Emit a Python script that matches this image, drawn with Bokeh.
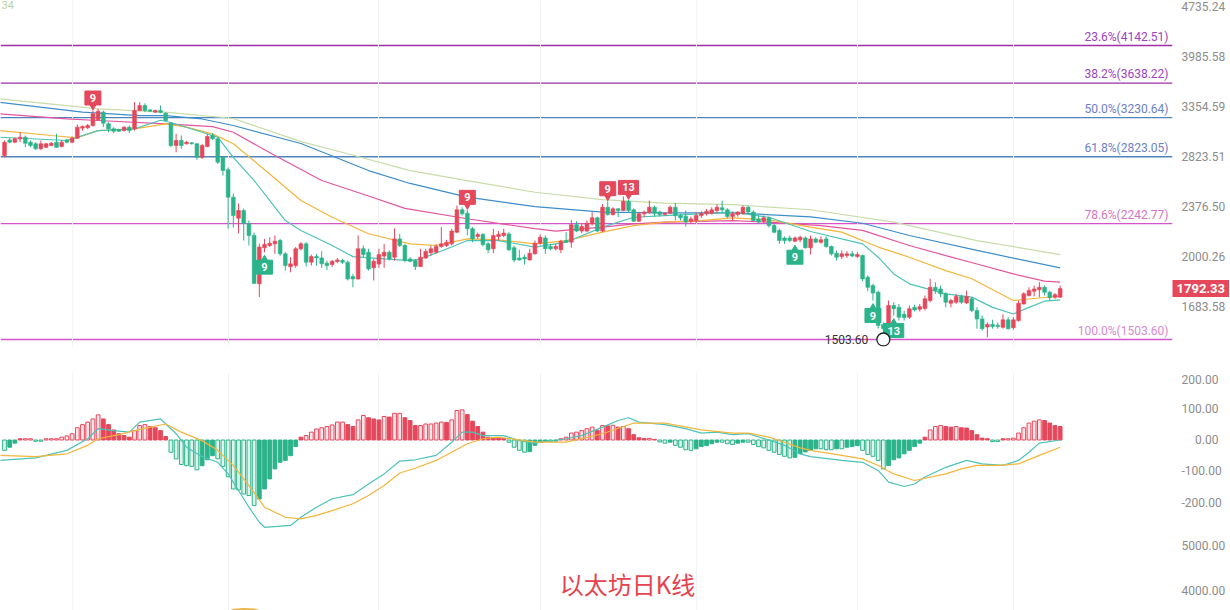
import math
from bokeh.plotting import figure
from bokeh.layouts import column
from bokeh.models import (Range1d, FixedTicker, NumeralTickFormatter, Label,
                          ColumnDataSource, Grid)
from bokeh.core.properties import value
from bokeh.embed import file_html
from bokeh.resources import INLINE

# ---------------- data ----------------
OPEN = [
    2835, 2992, 2969, 3003, 3020, 2969, 2952, 2901, 2917, 2935,
    2969, 2924, 2992, 2969, 3009, 3116, 3120, 3144, 3207, 3292,
    3163, 3109, 3100, 3090, 3126, 3109, 3311, 3368, 3318, 3292,
    3311, 3281, 3170, 2935, 2986, 2952, 2962, 2952, 2818, 2924,
    3038, 3003, 2818, 2700, 2456, 2284, 2346, 2243, 2152, 1822,
    2063, 2079, 2091, 2115, 2020, 1933, 1940, 2056, 2091, 1963,
    2001, 1992, 1956, 1947, 1967, 1974, 1963, 1868, 1853, 2056,
    2032, 1925, 1950, 2005, 2032, 1997, 2127, 2079, 1985, 1974,
    1934, 1992, 2028, 2032, 2072, 2079, 2091, 2177, 2351, 2324,
    2203, 2145, 2160, 2091, 2056, 2145, 2152, 2164, 2063, 1992,
    1997, 1978, 2020, 2096, 2134, 2072, 2056, 2049, 2115, 2103,
    2234, 2185, 2185, 2240, 2287, 2185, 2372, 2313, 2359, 2346,
    2422, 2351, 2261, 2319, 2330, 2372, 2333, 2313, 2324, 2372,
    2305, 2300, 2261, 2266, 2305, 2319, 2324, 2346, 2368, 2351,
    2297, 2313, 2319, 2372, 2333, 2279, 2261, 2287, 2227, 2190,
    2134, 2134, 2110, 2120, 2134, 2063, 2127, 2103, 2127, 2072,
    2025, 2001, 2008, 2020, 2001, 2008, 1864, 1811, 1770, 1584,
    1578, 1691, 1680, 1640, 1624, 1680, 1669, 1674, 1720, 1800,
    1790, 1760, 1704, 1710, 1744, 1706, 1730, 1662, 1614, 1570,
    1584, 1580, 1568, 1609, 1566, 1605, 1700, 1750, 1776, 1785,
    1800, 1770, 1740, 1740,
]
HIGH = [
    2986, 3013, 3020, 3072, 3038, 2986, 2969, 2986, 2962, 2970,
    3055, 2992, 3003, 3027, 3155, 3144, 3160, 3311, 3330, 3311,
    3181, 3126, 3110, 3137, 3144, 3407, 3407, 3395, 3330, 3322,
    3368, 3292, 3181, 3055, 3038, 2980, 2970, 2958, 2952, 3055,
    3062, 3020, 2825, 2720, 2487, 2403, 2362, 2266, 2175, 2093,
    2127, 2139, 2152, 2127, 2032, 1997, 2068, 2103, 2103, 2015,
    2020, 2039, 1974, 1978, 1992, 1985, 1974, 1886, 2152, 2079,
    2056, 1985, 2056, 2091, 2044, 2205, 2164, 2091, 1997, 1985,
    2056, 2056, 2079, 2091, 2215, 2120, 2203, 2386, 2372, 2351,
    2215, 2175, 2170, 2103, 2203, 2185, 2203, 2177, 2079, 2049,
    2015, 2056, 2115, 2160, 2152, 2091, 2091, 2120, 2177, 2271,
    2261, 2240, 2266, 2333, 2297, 2399, 2422, 2372, 2364, 2462,
    2433, 2364, 2333, 2346, 2428, 2386, 2346, 2333, 2386, 2407,
    2319, 2346, 2297, 2333, 2340, 2359, 2372, 2396, 2428, 2364,
    2333, 2340, 2386, 2386, 2346, 2305, 2305, 2297, 2240, 2203,
    2145, 2152, 2145, 2152, 2145, 2152, 2139, 2145, 2145, 2079,
    2044, 2044, 2039, 2039, 2032, 2015, 1875, 1822, 1780, 1595,
    1720, 1710, 1700, 1660, 1691, 1696, 1700, 1750, 1854, 1832,
    1811, 1770, 1730, 1760, 1755, 1780, 1740, 1680, 1633, 1595,
    1610, 1595, 1640, 1624, 1624, 1720, 1770, 1800, 1811, 1832,
    1811, 1780, 1765, 1811,
]
LOW = [
    2818, 2958, 2958, 2969, 2917, 2917, 2891, 2891, 2910, 2928,
    2911, 2917, 2958, 2958, 3003, 3090, 3105, 3133, 3199, 3126,
    3072, 3062, 3075, 3080, 3062, 3090, 3303, 3292, 3292, 3285,
    3281, 3192, 2917, 2867, 2901, 2945, 2945, 2793, 2802, 2917,
    2992, 2755, 2646, 2203, 2212, 2168, 2115, 2079, 1820, 1740,
    2032, 2068, 2020, 2008, 1907, 1896, 1925, 2044, 1934, 1940,
    1940, 1925, 1911, 1932, 1956, 1952, 1843, 1800, 1848, 1997,
    1907, 1843, 1925, 1925, 1974, 1974, 2068, 1963, 1963, 1911,
    1930, 1985, 2008, 2020, 2063, 2068, 2079, 2170, 2305, 2152,
    2103, 2127, 2072, 2025, 2025, 2115, 2139, 2039, 1963, 1974,
    1947, 1974, 2015, 2086, 2020, 2044, 2044, 2025, 2098, 2063,
    2177, 2170, 2177, 2227, 2177, 2177, 2305, 2305, 2292, 2340,
    2333, 2255, 2255, 2292, 2319, 2297, 2297, 2305, 2319, 2266,
    2266, 2220, 2240, 2245, 2287, 2305, 2313, 2324, 2333, 2287,
    2261, 2297, 2313, 2319, 2255, 2245, 2245, 2212, 2170, 2091,
    2091, 2103, 2103, 2103, 2058, 2015, 2096, 2091, 2063, 2008,
    1974, 1985, 1992, 1997, 1992, 1838, 1776, 1720, 1561, 1503.60,
    1534, 1633, 1605, 1605, 1614, 1656, 1656, 1662, 1710, 1760,
    1740, 1680, 1680, 1700, 1700, 1700, 1652, 1561, 1551, 1515,
    1561, 1561, 1561, 1556, 1556, 1600, 1696, 1744, 1744, 1740,
    1750, 1720, 1730, 1736,
]
CLOSE = [
    2968, 2969, 3003, 3020, 2958, 2935, 2901, 2952, 2952, 2958,
    2917, 2969, 2969, 3009, 3126, 3133, 3144, 3273, 3303, 3170,
    3109, 3083, 3083, 3126, 3090, 3311, 3368, 3311, 3303, 3311,
    3288, 3199, 2935, 2986, 2935, 2969, 2952, 2818, 2935, 3027,
    3003, 2771, 2692, 2456, 2305, 2346, 2243, 2152, 1825, 2068,
    2086, 2096, 2110, 2020, 1940, 1952, 2056, 2091, 1963, 2001,
    1992, 1952, 1940, 1969, 1978, 1963, 1853, 1853, 2056, 2015,
    1918, 1969, 2015, 2032, 1985, 2127, 2079, 1974, 1969, 1934,
    1997, 2037, 2056, 2072, 2091, 2103, 2185, 2351, 2319, 2203,
    2127, 2160, 2086, 2049, 2152, 2160, 2170, 2049, 1978, 1978,
    1985, 2025, 2096, 2139, 2056, 2056, 2072, 2110, 2103, 2234,
    2185, 2220, 2245, 2287, 2185, 2372, 2313, 2359, 2346, 2422,
    2346, 2261, 2319, 2333, 2372, 2324, 2313, 2324, 2372, 2305,
    2287, 2255, 2279, 2305, 2324, 2340, 2351, 2372, 2351, 2297,
    2319, 2333, 2372, 2333, 2266, 2255, 2287, 2227, 2177, 2115,
    2115, 2115, 2134, 2139, 2063, 2127, 2103, 2120, 2072, 2020,
    1997, 2020, 2020, 2005, 2015, 1853, 1800, 1765, 1578, 1561,
    1691, 1672, 1624, 1622, 1672, 1665, 1684, 1730, 1800, 1780,
    1760, 1710, 1720, 1744, 1710, 1744, 1662, 1614, 1561, 1584,
    1572, 1572, 1609, 1561, 1609, 1704, 1760, 1780, 1790, 1800,
    1770, 1737, 1755, 1792.33,
]

# moving averages: (candle index, price)
MA_TEAL = [(-1, 3020), (12, 2986), (18, 3090), (25, 3108), (30, 3202), (32, 3177),
           (38, 3072), (41, 3020), (44, 2818), (48, 2601), (54, 2266), (57, 2190),
           (63, 2079), (67, 2001), (73, 1985), (78, 1974), (80, 1985), (86, 2068),
           (89, 2115), (95, 2115), (102, 2068), (108, 2103), (115, 2215), (121, 2292),
           (127, 2305), (140, 2333), (147, 2292), (155, 2182), (165, 2091), (168, 1997),
           (171, 1885), (174, 1822), (181, 1760), (186, 1740), (190, 1680), (194, 1642),
           (197, 1680), (200, 1716), (203, 1724)]
MA_ORANGE = [(-1, 3090), (9, 3038), (14, 3014), (18, 3090), (25, 3108), (31, 3163),
             (35, 3126), (40, 3055), (44, 2952), (51, 2661), (57, 2428), (63, 2292),
             (70, 2165), (78, 2091), (83, 2079), (89, 2127), (95, 2120), (102, 2091),
             (108, 2115), (115, 2177), (121, 2227), (127, 2253), (134, 2266), (140, 2287),
             (147, 2271), (155, 2215), (161, 2177), (168, 2068), (174, 1997), (181, 1907),
             (186, 1854), (194, 1720), (200, 1738), (203, 1744)]
MA_PINK = [(-1, 3273), (12, 3216), (18, 3199), (31, 3163), (40, 3133), (44, 3072),
           (52, 2835), (61, 2601), (70, 2466), (77, 2363), (89, 2280), (102, 2203),
           (106, 2185), (115, 2215), (121, 2240), (127, 2253), (140, 2266), (147, 2253),
           (157, 2227), (165, 2190), (174, 2079), (181, 2008), (187, 1951), (194, 1885),
           (200, 1839), (203, 1832)]
MA_BLUE = [(-1, 3407), (15, 3292), (26, 3254), (31, 3254), (38, 3216), (44, 3144),
           (57, 2955), (70, 2692), (78, 2575), (89, 2456), (102, 2378), (115, 2332),
           (127, 2327), (140, 2327), (155, 2295), (165, 2245), (174, 2152), (187, 2044),
           (203, 1925)]
MA_KHAKI = [(-1, 3447), (18, 3330), (31, 3292), (44, 3221), (57, 2975), (66, 2853),
            (78, 2692), (89, 2601), (102, 2498), (115, 2436), (127, 2406), (140, 2393),
            (155, 2352), (171, 2253), (187, 2115), (203, 2015)]

FIB_LEVELS = ["23.6%", "38.2%", "50.0%", "61.8%", "78.6%", "100.0%"]
FIB_PRICES = [4142.51, 3638.22, 3230.64, 2823.05, 2242.77, 1503.60]

PRICE_TICKS = [1683.58, 2000.26, 2376.50, 2823.51, 3354.59, 3985.58, 4735.24]
MACD_TICKS = [-200, -100, 0, 100, 200]
VOL_TICKS = [4000, 5000]

TD_SELL_IDX = [17, 89, 116, 120]
TD_SELL_TEXT = ["9", "9", "9", "13"]
TD_BUY_IDX = [50, 152, 167, 171]
TD_BUY_TEXT = ["9", "9", "9", "13"]

LOW_IDX = 169
LOW_PRICE = 1503.60
LAST_PRICE = 1792.33

MACD_HIST = [
    -33, -23, -10, 4, 4, 4, -4, -4, 4, 4,
    4, 9, 13, 20, 39, 49, 57, 67, 80, 67,
    49, 32, 20, 14, 9, 30, 46, 49, 43, 39,
    30, 11, -39, -60, -78, -82, -84, -95, -82, -63,
    -50, -60, -84, -117, -156, -159, -172, -177, -209, -188,
    -156, -124, -92, -71, -65, -50, -21, 9, 14, 25,
    35, 39, 43, 48, 57, 57, 49, 43, 64, 78,
    71, 67, 64, 75, 73, 85, 85, 71, 62, 46,
    46, 51, 51, 54, 57, 56, 64, 94, 96, 81,
    60, 43, 25, 9, 7, 6, 5, -7, -23, -33,
    -39, -37, -17, -7, -5, -5, -4, 4, 9, 22,
    25, 30, 36, 41, 30, 46, 45, 47, 41, 43,
    36, 17, 7, 5, 5, 2, -6, -10, -7, -17,
    -23, -31, -33, -28, -21, -18, -12, -7, -7, -12,
    -14, -10, -7, -7, -14, -21, -25, -33, -39, -46,
    -52, -57, -55, -44, -38, -33, -28, -28, -31, -31,
    -28, -28, -23, -21, -18, -33, -46, -52, -65, -92,
    -81, -63, -57, -44, -33, -21, -10, 9, 32, 43,
    46, 43, 41, 43, 39, 38, 30, 17, 6, 4,
    -5, -5, 4, 4, 6, 22, 39, 54, 60, 64,
    62, 54, 46, 43,
]
MACD_DIF = [(-1, -65), (6, -57), (12, -33), (16, 4), (18, 36), (21, 30), (24, 25),
            (26, 57), (30, 67), (33, 20), (35, -23), (38, -53), (41, -71), (43, -108),
            (45, -161), (47, -214), (49, -262), (50, -278), (55, -272), (57, -246),
            (60, -214), (63, -187), (67, -174), (70, -140), (73, -108), (76, -67),
            (79, -63), (83, -49), (86, -7), (88, 25), (90, 25), (92, 14), (96, 14),
            (99, -2), (102, -10), (108, 4), (111, 14), (115, 41), (118, 62), (120, 71),
            (122, 57), (127, 49), (131, 36), (134, 22), (137, 25), (140, 17), (143, 20),
            (147, 0), (150, -17), (153, -44), (155, -53), (161, -65), (165, -71),
            (168, -97), (170, -134), (173, -148), (175, -140), (177, -118), (181, -87),
            (185, -65), (188, -76), (192, -81), (195, -65), (197, -39), (199, -10),
            (203, 0)]
MACD_DEA = [(-1, -49), (6, -53), (12, -44), (16, -17), (18, 4), (22, 17), (25, 30),
            (28, 41), (31, 51), (34, 25), (38, -2), (41, -33), (44, -81), (47, -145),
            (50, -214), (54, -246), (57, -251), (60, -240), (63, -225), (67, -203),
            (70, -177), (73, -145), (76, -105), (79, -90), (83, -65), (89, -12),
            (92, 4), (95, 9), (102, -7), (108, -7), (115, 20), (121, 54), (127, 54),
            (134, 32), (140, 22), (143, 22), (147, 9), (150, -7), (153, -25), (155, -33),
            (161, -49), (165, -60), (168, -81), (171, -108), (175, -129), (181, -108),
            (184, -92), (187, -81), (191, -81), (195, -76), (199, -49), (203, -23)]
VOL_MA = [(38, 3300), (42, 3480), (44, 3575), (46, 3592), (48, 3585), (51, 3480), (55, 3300)]

GRID_IDX = [13, 43, 72, 103, 133, 164, 194]
TITLE = "以太坊日K线"

# ---------------- style ----------------
FONT = "Roboto"
RED = "#e5475b"
GREEN = "#2bb38a"
TEAL = "#4cc3b8"
ORANGE = "#f3b63a"
PINK = "#e2559f"
BLUE = "#3d8ec9"
KHAKI = "#c8dcaa"
FIB_LINE = ["#9e2fa6", "#9e2fa6", "#4f84bd", "#4f84bd", "#d255c9", "#d255c9"]
FIB_TEXT = ["#9b43c2", "#9b43c2", "#6c80c9", "#6c80c9", "#d474c4", "#d88ad0"]
AXIS_TEXT = "#8c8c8c"

W = 1230
RIGHT = 58
MAIN_FRAME_H = 346           # price frame height
MAIN_BELOW = 26              # reserved strip under the price frame (holds the price tag)
H_MAIN = MAIN_FRAME_H + MAIN_BELOW
H_MACD = 532 - H_MAIN
H_VOL = 78
PX_PER_LN = 290.1
X_START, X_END = -0.77, 224.6
P_MAX = 4838
P_MIN = P_MAX * math.exp(-MAIN_FRAME_H / PX_PER_LN)
MACD_PX = 0.314              # pixels per MACD unit
MACD_ZERO_Y = 439.5          # page y of the MACD zero line
MACD_TOP = (MACD_ZERO_Y - H_MAIN) / MACD_PX
MACD_BOTTOM = (MACD_ZERO_Y - 532) / MACD_PX

xr = Range1d(X_START, X_END)


def base_fig(height, y_range, ticks, y_type="linear", bottom=0):
    f = figure(width=W, height=height, x_range=xr, y_range=y_range, y_axis_type=y_type,
               y_axis_location="right", x_axis_location=None, output_backend="svg",
               toolbar_location=None, min_border_left=0, min_border_right=RIGHT,
               min_border_top=0, min_border_bottom=bottom, outline_line_color=None,
               background_fill_color="white", border_fill_color="white")
    f.grid.visible = False
    f.add_layout(Grid(dimension=0, ticker=FixedTicker(ticks=GRID_IDX),
                      grid_line_color="#f3f3f3", grid_line_width=1))
    ax = f.yaxis[0]
    ax.ticker = FixedTicker(ticks=ticks)
    ax.formatter = NumeralTickFormatter(format="0.00")
    ax.axis_line_color = None
    ax.major_tick_line_color = None
    ax.minor_tick_line_color = None
    ax.major_tick_out = 0
    ax.major_tick_in = 0
    ax.major_label_standoff = 9
    ax.major_label_text_font = FONT
    ax.major_label_text_font_size = "12px"
    ax.major_label_text_color = AXIS_TEXT
    return f


# ---------------- main price panel ----------------
p = base_fig(H_MAIN, Range1d(P_MIN, P_MAX), PRICE_TICKS, "log", bottom=MAIN_BELOW)

for lvl, price, lc, tc in zip(FIB_LEVELS, FIB_PRICES, FIB_LINE, FIB_TEXT):
    p.segment(x0=X_START, x1=X_END, y0=price, y1=price, line_color=lc, line_width=1.3,
              level="underlay")
    p.add_layout(Label(x=X_END, y=price, text=f"{lvl}({price:.2f})", text_align="right",
                       text_baseline="bottom", x_offset=-4, y_offset=2, text_color=tc,
                       text_font=FONT, text_font_size="12px"))

for series, col in [(MA_KHAKI, KHAKI), (MA_BLUE, BLUE), (MA_PINK, PINK),
                    (MA_ORANGE, ORANGE), (MA_TEAL, TEAL)]:
    xs, ys = zip(*series)
    p.line(list(xs), list(ys), line_color=col, line_width=1.2)

idx = list(range(len(OPEN)))
ccol = [RED if c >= o else GREEN for o, c in zip(OPEN, CLOSE)]
csrc = ColumnDataSource(dict(
    x=idx, h=HIGH, l=LOW,
    top=[max(o, c) for o, c in zip(OPEN, CLOSE)],
    bottom=[min(o, c) for o, c in zip(OPEN, CLOSE)],
    color=ccol))
p.segment(x0="x", y0="h", x1="x", y1="l", line_color="color", line_width=1, source=csrc)
p.vbar(x="x", top="top", bottom="bottom", width=0.72, fill_color="color",
       line_color="color", line_width=0.6, source=csrc)

# TD sequential markers
sell_y = [HIGH[i] * math.exp(12.5 / PX_PER_LN) for i in TD_SELL_IDX]
sell_tip = [HIGH[i] * math.exp(4 / PX_PER_LN) for i in TD_SELL_IDX]
buy_y = [LOW[i] * math.exp(-15 / PX_PER_LN) for i in TD_BUY_IDX]
buy_tip = [LOW[i] * math.exp(-6.5 / PX_PER_LN) for i in TD_BUY_IDX]
for ids, ys, tips, texts, col, mk in [
        (TD_SELL_IDX, sell_y, sell_tip, TD_SELL_TEXT, RED, "inverted_triangle"),
        (TD_BUY_IDX, buy_y, buy_tip, TD_BUY_TEXT, GREEN, "triangle")]:
    widths = [12 + 4 * len(t) for t in texts]
    p.scatter(ids, tips, marker=mk, size=6, fill_color=col, line_color=col)
    p.rect(ids, ys, width=widths, height=14, width_units="screen", height_units="screen",
           fill_color=col, line_color=col)
    p.text(ids, ys, text=texts, text_font=value(FONT), text_font_style="bold",
           text_font_size="11px", text_color="white", text_align="center",
           text_baseline="middle")

# lowest point marker
p.scatter([LOW_IDX], [LOW_PRICE], marker="circle", size=13, fill_color="white",
          line_color="#222222", line_width=1.3)
p.text([LOW_IDX], [LOW_PRICE], text=[f"{LOW_PRICE:.2f}"], x_offset=-15,
       text_font=value(FONT), text_font_size="12px", text_color="#333333",
       text_align="right", text_baseline="middle")

# last price tag: lives in the (reserved) bottom side panel so it is not clipped to the
# frame, but is drawn at its data position on top of the price axis
tag = Label(x=X_END, y=LAST_PRICE, text=f"{LAST_PRICE:.2f}", x_offset=0,
            text_align="left", text_baseline="middle", text_color="white",
            text_font=FONT, text_font_size="13px", text_font_style="bold",
            background_fill_color=RED, background_fill_alpha=1.0, padding=4)
p.add_layout(tag, "below")

p.add_layout(Label(x=X_START, y=P_MAX, text="34", text_baseline="top", y_offset=0,
                   x_offset=1, text_color="#b9d6a2", text_font=FONT,
                   text_font_size="11px"))

# ---------------- MACD panel ----------------
m = base_fig(H_MACD, Range1d(MACD_BOTTOM, MACD_TOP), MACD_TICKS)
m.yaxis[0].major_label_overrides = {0: "\u2007\u20070.00"}

fills, lines = [], []
prev = 0
for h in MACD_HIST:
    base = RED if h >= 0 else GREEN
    shrinking = abs(h) < abs(prev)
    lines.append(base)
    if shrinking:
        fills.append(base)
    else:
        fills.append("#fde6e9" if h >= 0 else "#dff4ed")
    prev = h
msrc = ColumnDataSource(dict(x=idx, top=MACD_HIST, fill=fills, line=lines))
m.vbar(x="x", top="top", bottom=0, width=0.72, fill_color="fill", line_color="line",
       line_width=1, source=msrc)
xs, ys = zip(*MACD_DIF)
m.line(list(xs), list(ys), line_color=TEAL, line_width=1.2)
xs, ys = zip(*MACD_DEA)
m.line(list(xs), list(ys), line_color=ORANGE, line_width=1.2)

# ---------------- volume panel ----------------
v = base_fig(H_VOL, Range1d(3556, 5289), VOL_TICKS)
xs, ys = zip(*VOL_MA)
v.line(list(xs), list(ys), line_color="#e8b64a", line_width=1.6)
v.add_layout(Label(x=119.8, y=4156, text=TITLE, text_align="center",
                   text_baseline="middle", text_color="#e5434f",
                   text_font="Noto Sans CJK SC", text_font_size="24px"))

layout = column(p, m, v, spacing=0)
open("out.html", "w").write(file_html(layout, INLINE))
